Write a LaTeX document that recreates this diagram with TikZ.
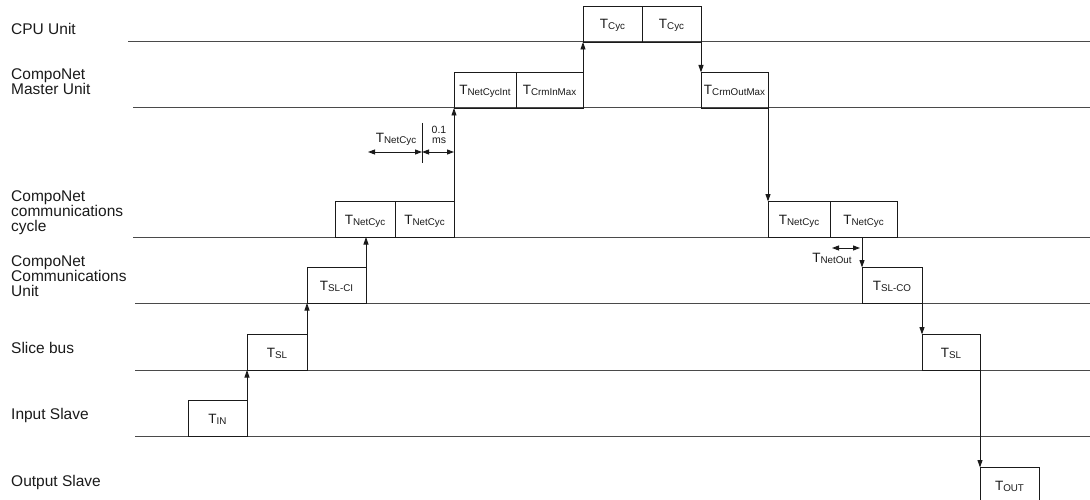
\documentclass[tikz,border=0pt]{standalone}
\usepackage{fontspec}
\setmainfont{Liberation Sans}
\usepackage{tikz}
\usetikzlibrary{arrows.meta, positioning, calc}
\definecolor{tlgray}{HTML}{4A4A4A}
\definecolor{tlink}{HTML}{1A1A1A}
\tikzstyle{tbox}=[rectangle, draw=tlink, line width=0.9pt, inner sep=0pt, outer sep=0pt, minimum height=35.5pt, text height=9.5pt, text depth=0pt, text=tlink, font=\fontsize{13.5}{13.5}\selectfont, anchor=south west]
\tikzstyle{lane}=[draw=tlgray, line width=1pt]
\tikzstyle{lanelabel}=[anchor=north west, inner sep=0pt, align=left, text=tlink, font=\fontsize{15.5}{15}\selectfont]
\tikzstyle{dimlabel}=[inner sep=0pt, text height=9.5pt, text depth=0pt, text=tlink, font=\fontsize{13.5}{13.5}\selectfont]
\tikzstyle{arrow}=[draw=tlink, line width=0.9pt, -{Triangle[length=7.5pt,width=5pt]}]
\tikzstyle{dim}=[draw=tlink, line width=0.9pt, {Triangle[length=7pt,width=5pt]}-{Triangle[length=7pt,width=5pt]}]
\newcommand{\Tsub}[1]{T{\fontsize{9.8}{10}\selectfont\raisebox{-1pt}{#1}}}

\begin{document}
\begin{tikzpicture}[x=1pt, y=-1pt]
    \useasboundingbox (0,0) rectangle (1090,500);

    % lanes
    \draw[lane] (128,42) -- (1090,42);
    \draw[lane] (133,108) -- (1090,108);
    \draw[lane] (133,237) -- (1090,237);
    \draw[lane] (135,303) -- (1090,303);
    \draw[lane] (135,370) -- (1090,370);
    \draw[lane] (135,436) -- (1090,436);

    \node[lanelabel] (lcpu) at (11,23) {CPU Unit};
    \node[lanelabel] (lmaster) at (11,68) {CompoNet\\Master Unit};
    \node[lanelabel] (lcycle) at (11,190) {CompoNet\\communications\\cycle};
    \node[lanelabel] (lunit) at (11,255) {CompoNet\\Communications\\Unit};
    \node[lanelabel] (lslice) at (11,342) {Slice bus};
    \node[lanelabel] (linput) at (11,408) {Input Slave};
    \node[lanelabel] (loutput) at (11,475) {Output Slave};

    % input side
    \node[tbox, minimum width=59pt] (tin) at (188,436) {\Tsub{IN}};
    \node[tbox, minimum width=60pt] (slin) at (247,370) {\Tsub{SL}};
    \node[tbox, minimum width=59pt] (slci) at (307,303) {\Tsub{SL-CI}};
    \node[tbox, minimum width=60pt] (nc1) at (335,237) {\Tsub{NetCyc}};
    \node[tbox, minimum width=59pt] (nc2) at (395,237) {\Tsub{NetCyc}};
    \node[tbox, minimum width=62pt] (cycint) at (454,108) {\Tsub{NetCycInt}};
    \node[tbox, minimum width=67pt] (crmin) at (516,108) {\Tsub{CrmInMax}};
    \node[tbox, minimum width=59pt] (cyc1) at (583,42) {\Tsub{Cyc}};
    \node[tbox, minimum width=59pt] (cyc2) at (642,42) {\Tsub{Cyc}};

    % output side
    \node[tbox, minimum width=67pt] (crmout) at (701,108) {\Tsub{CrmOutMax}};
    \node[tbox, minimum width=62pt] (nc3) at (768,237) {\Tsub{NetCyc}};
    \node[tbox, minimum width=67pt] (nc4) at (830,237) {\Tsub{NetCyc}};
    \node[tbox, minimum width=60pt] (slco) at (862,303) {\Tsub{SL-CO}};
    \node[tbox, minimum width=58pt] (slout) at (922,370) {\Tsub{SL}};
    \node[tbox, minimum width=59pt] (tout) at (980,503) {\Tsub{OUT}};

    \coordinate (cycin) at (slci.north east |- nc1.south);
    \coordinate (cycout) at (slco.north west |- nc4.south);

    \draw[arrow] (tin.north east) -- (slin.south west);
    \draw[arrow] (slin.north east) -- (slci.south west);
    \draw[arrow] (slci.north east) -- (cycin);
    \draw[arrow] (nc2.north east) -- (cycint.south west);
    \draw[arrow] (crmin.north east) -- (cyc1.south west);
    \draw[arrow] (cyc2.south east) -- (crmout.north west);
    \draw[arrow] (crmout.south east) -- (nc3.north west);
    \draw[arrow] (cycout) -- (slco.north west);
    \draw[arrow] (slco.south east) -- (slout.north west);
    \draw[arrow] (slout.south east) -- (tout.north west);

    % timing marks
    \coordinate (dimL) at (368,152);
    \coordinate (dimM) at (422,152);
    \coordinate (dimR) at (nc2.north east |- dimM);
    \coordinate (tickT) at (422,123);
    \coordinate (tickB) at (422,163);
    \draw[draw=tlink, line width=0.9pt] (tickT) -- (tickB);
    \draw[dim] (dimL) -- (dimM);
    \draw[dim] (dimM) -- (dimR);
    \node[dimlabel] (lnetcyc) at (396,138) {\Tsub{NetCyc}};
    \node[inner sep=0pt, align=center, text=tlink, font=\fontsize{10.5}{10}\selectfont] (lms) at (439,135) {0.1\\ms};

    \coordinate (outL) at (832,248);
    \coordinate (outR) at (860,248);
    \draw[dim] (outL) -- (outR);
    \node[dimlabel] (lnetout) at (832,258) {\Tsub{NetOut}};
\end{tikzpicture}
\end{document}
